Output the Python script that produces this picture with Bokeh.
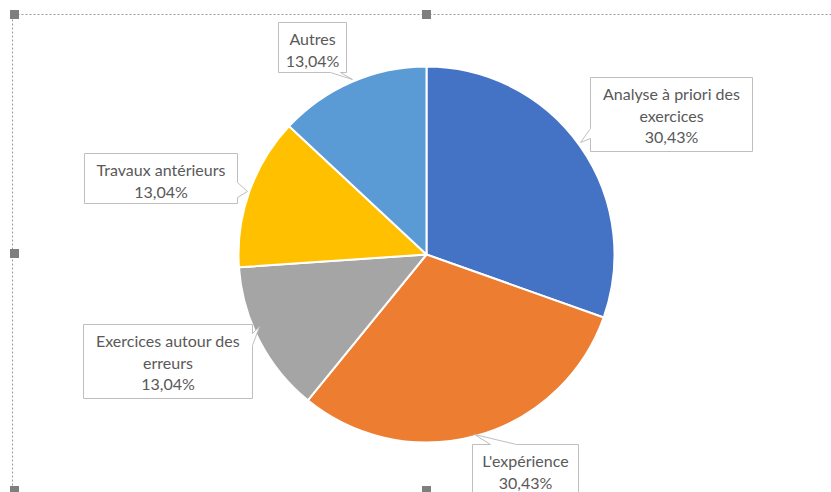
import math
from bokeh.plotting import figure
from bokeh.models import Range1d, ColumnDataSource
from bokeh.core.properties import value
from bokeh.embed import file_html
from bokeh.resources import INLINE

# --- data ---------------------------------------------------------------
categories = ["Analyse à priori des exercices", "L'expérience",
              "Exercices autour des erreurs", "Travaux antérieurs", "Autres"]
shares = [30.43, 30.43, 13.04, 13.04, 13.04]
label_lines = ["Analyse à priori des\nexercices", "L'expérience",
               "Exercices autour des\nerreurs", "Travaux antérieurs", "Autres"]
colors = ["#4472C4", "#ED7D31", "#A5A5A5", "#FFC000", "#5B9BD5"]

W, H = 831, 492


def sy(v):
    # screen-style (top-down) coordinate -> plot y
    return H - v


CX, CY, R = 426, sy(254), 188

p = figure(width=W, height=H, x_range=Range1d(0, W), y_range=Range1d(0, H),
           output_backend="svg", toolbar_location=None, min_border=0,
           background_fill_color="white", border_fill_color="white")
p.axis.visible = False
p.grid.visible = False
p.outline_line_color = None

# --- chart frame (selection border with handles) -----------------------
p.line([12, 12, W + 5], [sy(H + 5), sy(14), sy(14)], line_color="#9A9A9A",
       line_width=1, line_dash="2 2")
hx = [14, 426, 14, 14, 426]
hy = [sy(14), sy(14), sy(253), sy(490), sy(490)]
p.rect(hx, hy, width=9, height=9, fill_color="#7F7F7F", line_color=None)

# --- pie ---------------------------------------------------------------
total = sum(shares)
starts, ends = [], []
acc = 0.0
for s in shares:
    starts.append(math.pi / 2 - 2 * math.pi * acc / total)
    acc += s
    ends.append(math.pi / 2 - 2 * math.pi * acc / total)

src = ColumnDataSource(dict(start=starts, end=ends, color=colors))
p.wedge(x=CX, y=CY, radius=R, start_angle="start", end_angle="end",
        direction="clock", fill_color="color", line_color="white",
        line_width=2, source=src)

# --- callout boxes -----------------------------------------------------
# box: left, top, right, bottom (top-down), pointer: side, base a, base b, tip
boxes = [
    dict(box=(590, 77, 752, 151), side="left", base=(128, 138), tip=(580, 142)),
    dict(box=(472, 444, 578, 505), side="top", base=(490, 516), tip=(474, 434)),
    dict(box=(83, 324, 252, 398), side="right", base=(333, 345), tip=(259, 326)),
    dict(box=(84, 153, 237, 203), side="right", base=(182, 197), tip=(247, 191)),
    dict(box=(278, 22, 346, 72), side="bottom", base=(330, 340), tip=(352, 79)),
]


def callout(b):
    l, t, r, bt = b["box"]
    a0, a1 = b["base"]
    tx, ty = b["tip"]
    side = b["side"]
    pts = [(l, t)]
    if side == "top":
        pts += [(a0, t), (tx, ty), (a1, t)]
    pts += [(r, t)]
    if side == "right":
        pts += [(r, a0), (tx, ty), (r, a1)]
    pts += [(r, bt)]
    if side == "bottom":
        pts += [(a1, bt), (tx, ty), (a0, bt)]
    pts += [(l, bt)]
    if side == "left":
        pts += [(l, a1), (tx, ty), (l, a0)]
    xs = [q[0] for q in pts]
    ys = [sy(q[1]) for q in pts]
    return xs, ys


pxs, pys = [], []
for b in boxes:
    xs, ys = callout(b)
    pxs.append(xs)
    pys.append(ys)
p.patches(pxs, pys, fill_color="white", line_color="#BFBFBF", line_width=1)

texts, tx_, ty_ = [], [], []
for name, share, b in zip(label_lines, shares, boxes):
    l, t, r, bt = b["box"]
    lines = name.split("\n") + [f"{share:.2f}".replace(".", ",") + "%"]
    for i, ln in enumerate(lines):
        texts.append(ln)
        tx_.append((l + r) / 2)
        ty_.append(sy(t + 16 + 21.5 * i))

p.text(tx_, ty_, text=texts, text_align="center", text_baseline="middle",
       text_font=value("Lato"), text_font_size="16px", text_color="#595959")

open("out.html", "w").write(file_html(p, INLINE))
